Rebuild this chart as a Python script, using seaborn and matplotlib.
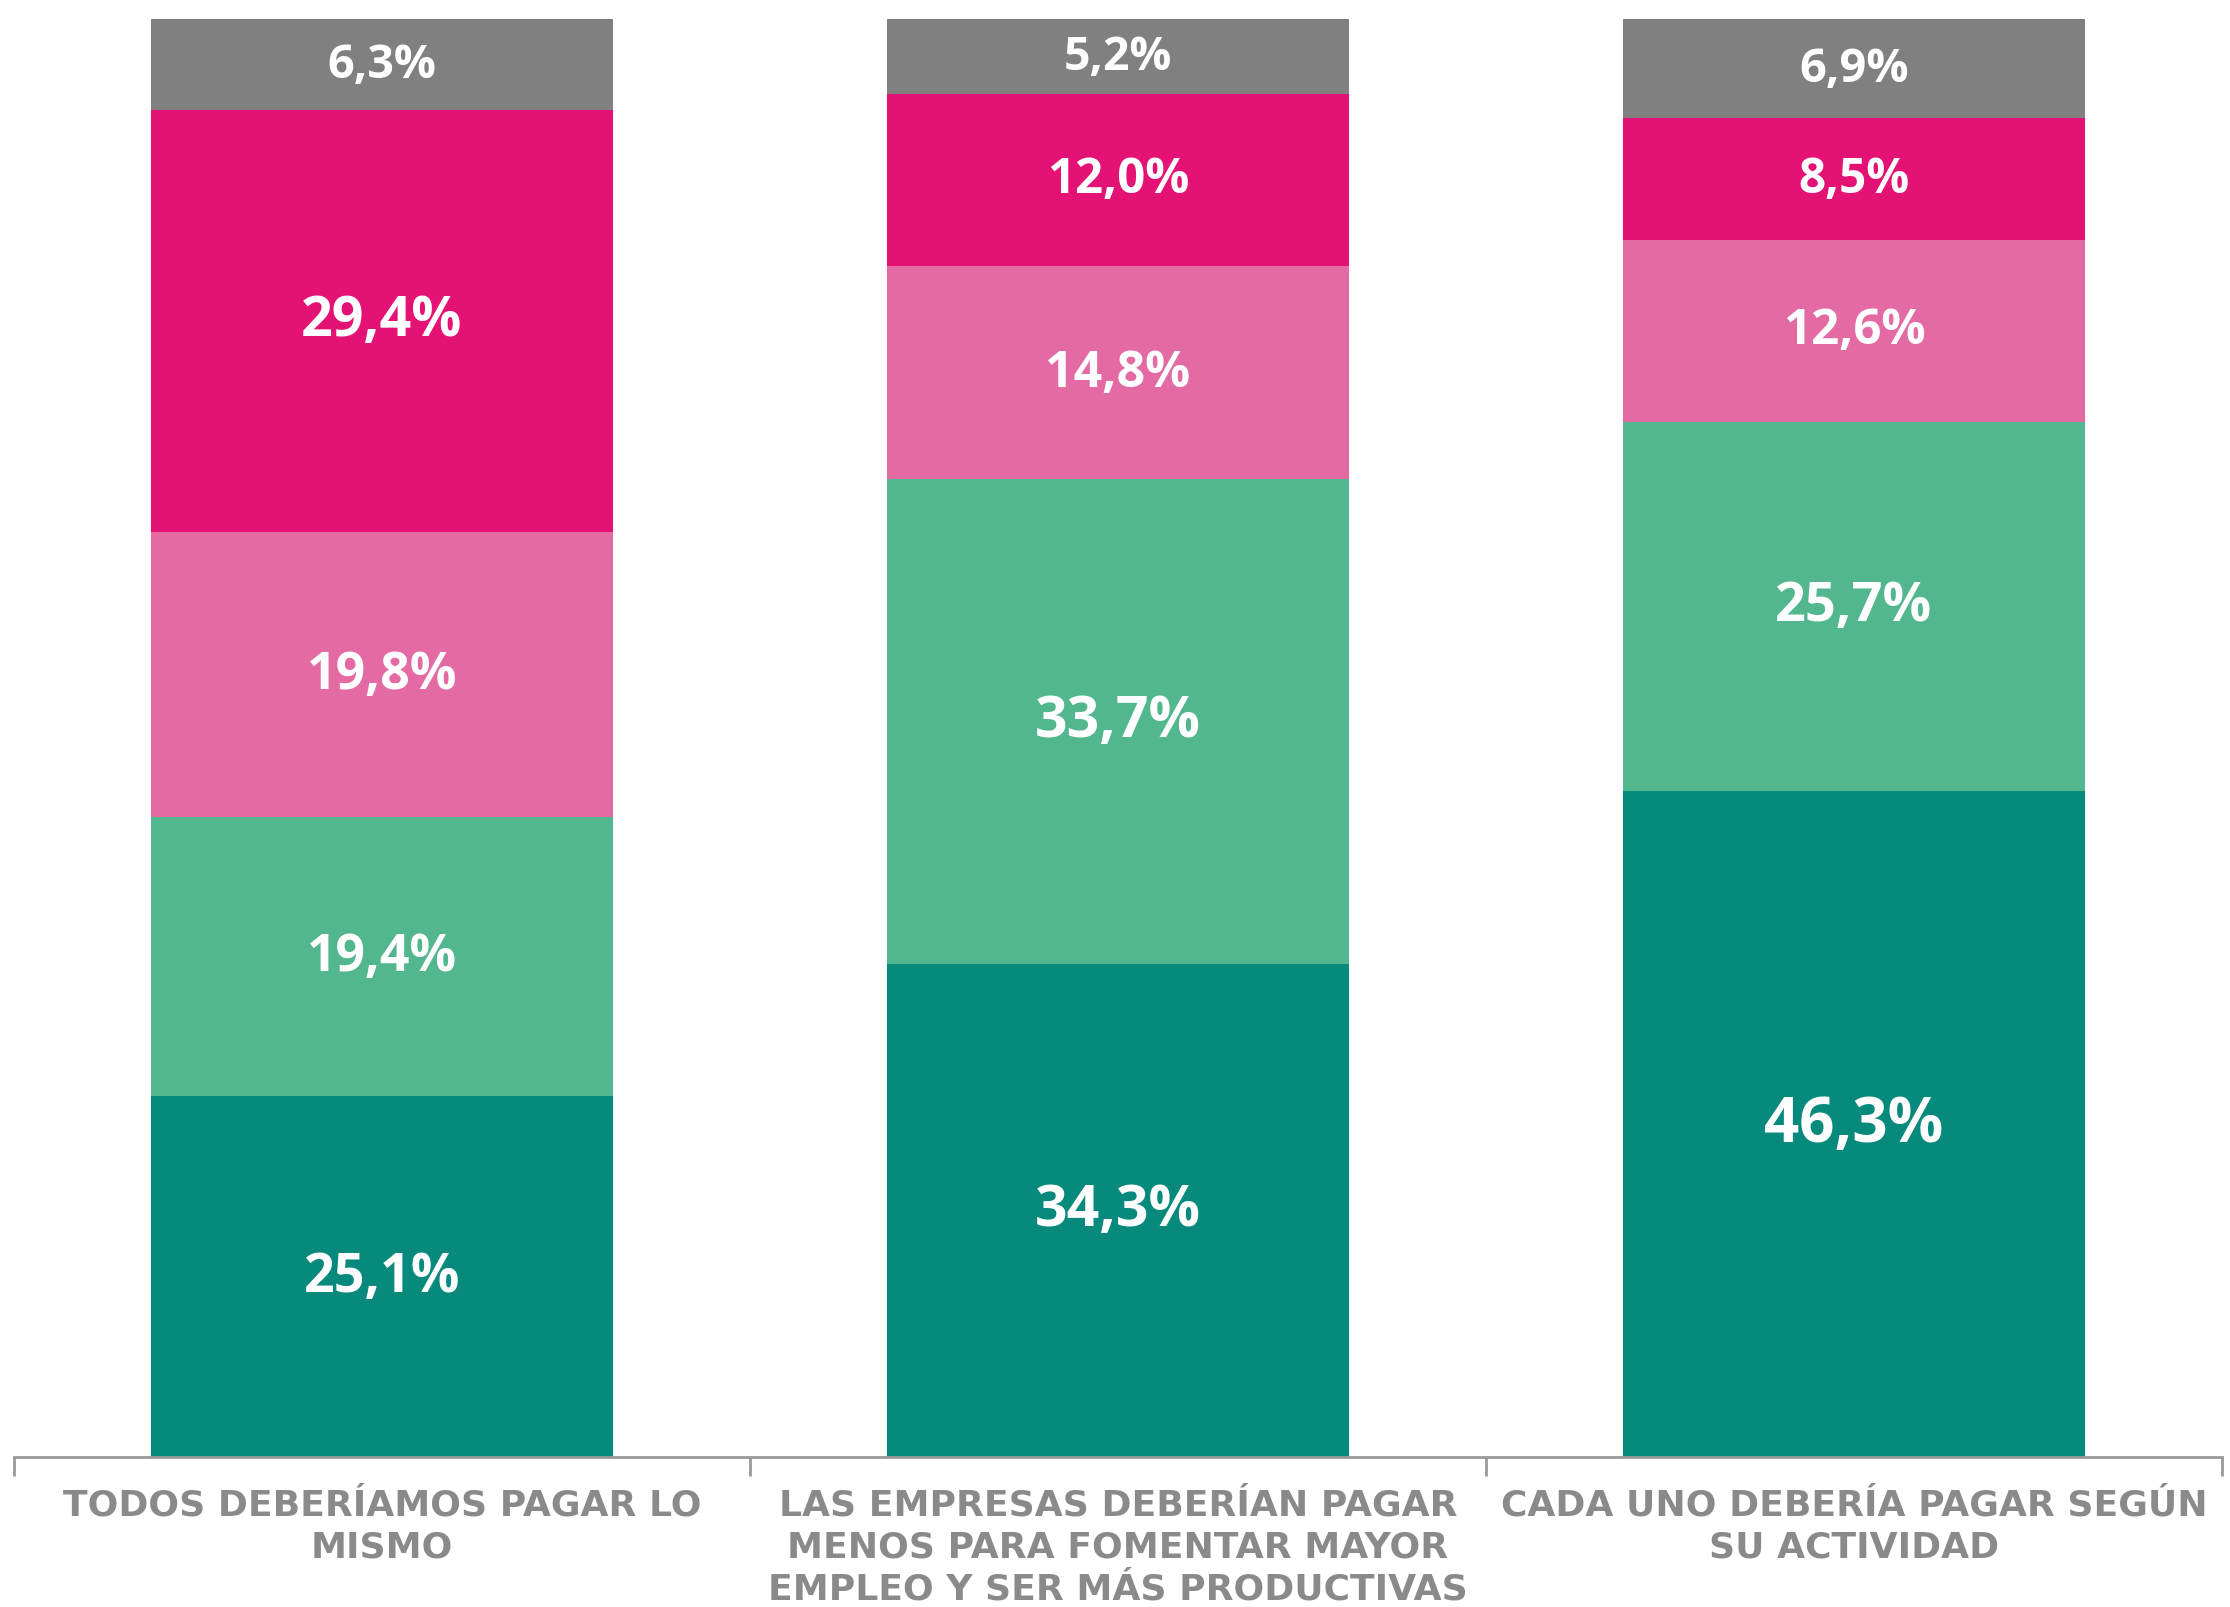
import numpy as np
import pandas as pd
import matplotlib
matplotlib.use('Agg')
import matplotlib.pyplot as plt
import seaborn as sns

categories = ['TODOS DEBERÍAMOS PAGAR LO\nMISMO',
              'LAS EMPRESAS DEBERÍAN PAGAR\nMENOS PARA FOMENTAR MAYOR\nEMPLEO Y SER MÁS PRODUCTIVAS',
              'CADA UNO DEBERÍA PAGAR SEGÚN\nSU ACTIVIDAD']

# stacked from bottom to top
series_names = ['s1', 's2', 's3', 's4', 's5']
s1 = [25.1, 34.3, 46.3]
s2 = [19.4, 33.7, 25.7]
s3 = [19.8, 14.8, 12.6]
s4 = [29.4, 12.0, 8.5]
s5 = [6.3, 5.2, 6.9]
values = [s1, s2, s3, s4, s5]
colors = ['#078A7C', '#52B68F', '#E46AA3', '#E31274', '#808080']

sns.set_style('white')
plt.rcParams['font.family'] = ['Open Sans', 'DejaVu Sans']

fig = plt.figure(figsize=(22.3, 16.08), dpi=100)
ax = fig.add_axes([0.0063, 0.0933, 0.9901, 0.8943])

bottom = np.zeros(len(categories))
x = np.arange(len(categories))
for name, vals, col in zip(series_names, values, colors):
    df = pd.DataFrame({'cat': categories, 'val': vals})
    sns.barplot(data=df, x='cat', y='val', color=col, width=0.628,
                bottom=bottom, saturation=1, ax=ax, linewidth=0)
    for xi, b, v in zip(x, bottom, vals):
        label = f'{v:.1f}%'.replace('.', ',')
        ax.text(xi, b + v / 2, label, ha='center', va='center',
                color='white', fontweight='bold', fontsize=32 + 0.27 * v)
    bottom = bottom + np.array(vals)

ax.set_xlim(-0.5, 2.5)
ax.set_ylim(0, 100)
ax.set_ylabel('')
ax.set_xlabel('')
ax.set_yticks([])
for s in ['top', 'left', 'right']:
    ax.spines[s].set_visible(False)
ax.spines['bottom'].set_color('#999999')
ax.spines['bottom'].set_linewidth(2)

ax.set_xticks(x)
ax.set_xticklabels(categories, fontsize=26, fontweight='bold', color='#8A8A8A',
                   linespacing=1.3, family='DejaVu Sans')
ax.tick_params(axis='x', which='major', length=0, pad=22)
ax.set_xticks([-0.5, 0.5, 1.5, 2.5], minor=True)
ax.tick_params(axis='x', which='minor', bottom=True, length=14, width=2,
               color='#999999', direction='out')

fig.savefig('out.png', dpi=100)
